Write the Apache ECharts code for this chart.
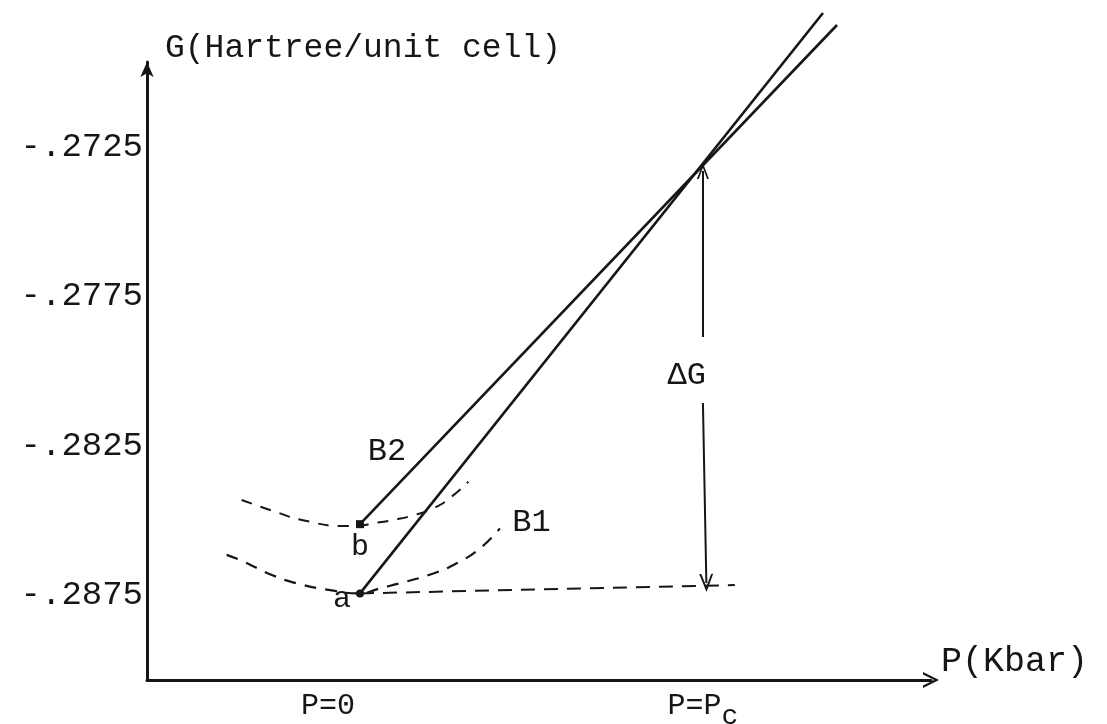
<!DOCTYPE html>
<html>
<head>
<meta charset="utf-8">
<script src="https://cdn.jsdelivr.net/npm/echarts@6/dist/echarts.min.js"></script>
<style>
  html, body { margin: 0; padding: 0; background: #ffffff; }
  #chart { width: 1107px; height: 724px; }
</style>
</head>
<body>
<div id="chart"></div>
<script>
// Free energy G versus pressure P (P measured in units of the transition pressure Pc)
const yTicks = [-0.2725, -0.2775, -0.2825, -0.2875];
const xTicks = [0, 1];
const xTickLabels = ['{p0|P=0}', 'P=P{c|c}'];

// dashed G(P) curves around the two minima
const curveB2 = [
  [-0.345, -0.28432], [-0.233, -0.28477], [-0.170, -0.28499], [-0.049, -0.28519],
  [0, -0.28518], [0.039, -0.28510], [0.097, -0.28499], [0.160, -0.28482],
  [0.219, -0.28457], [0.267, -0.28421], [0.316, -0.28371]
];
const curveB1 = [
  [-0.389, -0.28616], [-0.350, -0.28633], [-0.257, -0.28683], [-0.185, -0.28711],
  [-0.087, -0.28734], [0, -0.28745], [0.058, -0.28728], [0.126, -0.28708],
  [0.214, -0.28678], [0.282, -0.28644], [0.350, -0.28594], [0.408, -0.28527]
];

// straight lines leaving the minima a and b
const lineFromA = [[0, -0.28745], [1.350, -0.26801]];
const lineFromB = [[0, -0.28513], [1.391, -0.26841]];
// level of point a carried across to Pc
const levelA = [[0, -0.28745], [1.093, -0.28717]];

const pointA = [0, -0.28745];
const pointB = [0, -0.28513];

// double arrow for the energy difference at Pc (split around its label)
const deltaUpper = [[1.0, -0.27330], [1.0, -0.27886]];
const deltaLower = [[1.0, -0.28107], [1.01, -0.28710]];

// where the text annotations sit, in data units
const notes = [
  { text: 'B2', at: [0.079, -0.28271] },
  { text: 'B1', at: [0.50, -0.28506] },
  { text: '\u0394G', at: [0.953, -0.28014] }
];

const ink = '#161616';
const mono = '"Liberation Mono", "DejaVu Sans Mono", monospace';
const chevron = 'path://M0,20 L10,0 L20,20 L17,20 L10,6 L3,20 Z';

const chart = echarts.init(document.getElementById('chart'), null, { renderer: 'canvas' });

chart.setOption({
  animation: false,
  backgroundColor: '#ffffff',
  title: {
    text: 'G(Hartree/unit cell)',
    left: 160,
    top: 27,
    textStyle: { fontFamily: mono, fontSize: 33, fontWeight: 'normal', color: ink }
  },
  grid: {
    left: 147, right: 176, top: 62, bottom: 44,
    containLabel: false,
    outerBoundsMode: 'none'
  },
  xAxis: {
    type: 'value',
    min: -0.621,
    max: 1.665,
    name: 'P(Kbar)',
    nameLocation: 'end',
    nameGap: 10,
    nameTextStyle: {
      fontFamily: mono, fontSize: 35, color: ink,
      verticalAlign: 'bottom', lineHeight: 36, padding: [0, 0, 0, 0]
    },
    axisLine: {
      show: true,
      onZero: false,
      lineStyle: { color: ink, width: 3 },
      symbol: ['none', chevron],
      symbolSize: [16, 20]
    },
    axisTick: { show: false },
    splitLine: { show: false },
    axisLabel: {
      customValues: xTicks,
      margin: 4,
      formatter: (v) => xTickLabels[xTicks.indexOf(v)] || '',
      fontFamily: mono,
      fontSize: 30,
      color: ink,
      lineHeight: 44,
      rich: {
        p0: { fontFamily: mono, fontSize: 30, color: ink, lineHeight: 44, padding: [0, 64, 0, 0] },
        c: { fontFamily: mono, fontSize: 28, color: ink, lineHeight: 22, padding: [22, 0, 0, 0] }
      }
    }
  },
  yAxis: {
    type: 'value',
    min: -0.29035,
    max: -0.26965,
    axisLine: {
      show: true,
      onZero: false,
      lineStyle: { color: ink, width: 3 },
      symbol: ['none', 'arrow'],
      symbolSize: [10, 15]
    },
    axisTick: { show: false },
    splitLine: { show: false },
    axisLabel: {
      customValues: yTicks,
      margin: 4,
      formatter: (v) => '-' + v.toFixed(4).replace('-0', ''),
      fontFamily: mono,
      fontSize: 34,
      color: ink
    }
  },
  series: [
    {
      type: 'line', data: curveB2, smooth: true, showSymbol: false, clip: false, silent: true,
      lineStyle: { color: ink, width: 2, type: [11, 9] }
    },
    {
      type: 'line', data: curveB1, smooth: true, showSymbol: false, clip: false, silent: true,
      lineStyle: { color: ink, width: 2.2, type: [12, 9] }
    },
    {
      type: 'line', data: levelA, showSymbol: false, clip: false, silent: true,
      lineStyle: { color: ink, width: 2, type: [14, 9] }
    },
    {
      type: 'line', data: lineFromA, showSymbol: false, clip: false, silent: true,
      lineStyle: { color: ink, width: 2.6 }
    },
    {
      type: 'line', data: lineFromB, showSymbol: false, clip: false, silent: true,
      lineStyle: { color: ink, width: 2.6 },
      markLine: {
        silent: true,
        symbol: ['none', 'none'],
        label: { show: false },
        lineStyle: { color: ink, width: 2, type: 'solid' },
        data: [
          [
            { coord: deltaUpper[0], symbol: chevron, symbolSize: [12, 16] },
            { coord: deltaUpper[1], symbol: 'none' }
          ],
          [
            { coord: deltaLower[0], symbol: 'none' },
            { coord: deltaLower[1], symbol: chevron, symbolSize: [14, 18] }
          ]
        ]
      }
    },
    {
      type: 'scatter', data: [pointA], symbol: 'circle', symbolSize: 8, clip: false, silent: true,
      itemStyle: { color: ink, opacity: 1 },
      label: {
        show: true, formatter: 'a', position: 'left', distance: 5,
        fontFamily: mono, fontSize: 30, color: ink, offset: [0, 6]
      }
    },
    {
      type: 'scatter', data: [pointB], symbol: 'rect', symbolSize: 8, clip: false, silent: true,
      itemStyle: { color: ink, opacity: 1 },
      label: {
        show: true, formatter: 'b', position: 'bottom', distance: 4,
        fontFamily: mono, fontSize: 30, color: ink
      }
    },
    {
      type: 'scatter', symbolSize: 0, clip: false, silent: true,
      itemStyle: { opacity: 1 },
      data: notes.map(n => ({ value: n.at, name: n.text })),
      label: {
        show: true, position: 'inside', formatter: (p) => p.name,
        fontFamily: mono, fontSize: 32, color: ink
      }
    }
  ]
});
</script>
</body>
</html>
